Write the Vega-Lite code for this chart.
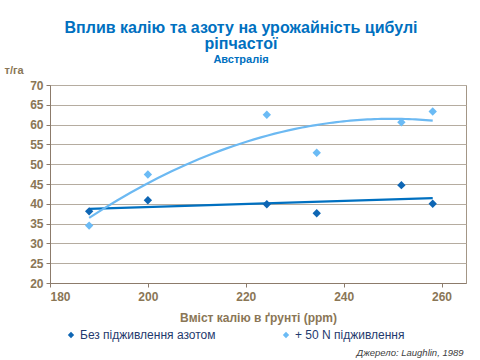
{
  "$schema": "https://vega.github.io/schema/vega-lite/v6.json",
  "width": 416,
  "height": 198,
  "autosize": {"type": "none"},
  "padding": {"left": 50, "top": 85, "right": 14, "bottom": 77},
  "background": "white",
  "config": {
    "font": "Liberation Sans",
    "view": {"stroke": "#A39686", "strokeWidth": 1}
  },
  "title": {
    "text": ["Вплив калію та азоту на урожайність цибулі", "ріпчастої"],
    "subtitle": "Австралія",
    "font": "Liberation Sans",
    "fontSize": 16,
    "fontWeight": "bold",
    "color": "#0070C0",
    "lineHeight": 16,
    "subtitleFont": "Liberation Sans",
    "subtitleFontSize": 11,
    "subtitleFontWeight": "bold",
    "subtitleColor": "#0070C0",
    "subtitlePadding": 2,
    "anchor": "middle",
    "dx": -17,
    "offset": -1
  },
  "data": {
    "values": [
      {"k": 188, "y": 38.1, "series": "Без підживлення азотом"},
      {"k": 200, "y": 40.9, "series": "Без підживлення азотом"},
      {"k": 224.3, "y": 39.9, "series": "Без підживлення азотом"},
      {"k": 234.5, "y": 37.6, "series": "Без підживлення азотом"},
      {"k": 251.8, "y": 44.7, "series": "Без підживлення азотом"},
      {"k": 258.2, "y": 40.0, "series": "Без підживлення азотом"},
      {"k": 188, "y": 34.5, "series": "+ 50 N підживлення"},
      {"k": 200, "y": 47.4, "series": "+ 50 N підживлення"},
      {"k": 224.3, "y": 62.5, "series": "+ 50 N підживлення"},
      {"k": 234.5, "y": 52.9, "series": "+ 50 N підживлення"},
      {"k": 251.8, "y": 60.6, "series": "+ 50 N підживлення"},
      {"k": 258.2, "y": 63.3, "series": "+ 50 N підживлення"}
    ]
  },
  "layer": [
    {
      "encoding": {
        "x": {
          "field": "k", "type": "quantitative",
          "title": "Вміст  калію в ґрунті  (ppm)",
          "scale": {"domain": [180, 265], "nice": false, "zero": false},
          "axis": {
            "values": [180, 200, 220, 240, 260],
            "grid": false,
            "domainColor": "#8C7B6B",
            "tickColor": "#8C7B6B",
            "tickSize": 4,
            "labelColor": "#8A7656",
            "labelFont": "Liberation Sans",
            "labelFontSize": 12,
            "labelFontWeight": "bold",
            "labelPadding": 4,
            "titleColor": "#8A7656",
            "titleFont": "Liberation Sans",
            "titleFontSize": 12,
            "titleFontWeight": "bold",
            "titlePadding": 10
          }
        },
        "y": {
          "field": "y", "type": "quantitative",
          "title": "т/га",
          "scale": {"domain": [20, 70], "nice": false, "zero": false},
          "axis": {
            "values": [20, 25, 30, 35, 40, 45, 50, 55, 60, 65, 70],
            "labelOverlap": false,
            "gridColor": "#B5ACA0",
            "gridWidth": 1,
            "domainColor": "#8C7B6B",
            "tickColor": "#8C7B6B",
            "tickSize": 4,
            "labelColor": "#8A7656",
            "labelFont": "Liberation Sans",
            "labelFontSize": 12,
            "labelFontWeight": "bold",
            "labelPadding": 3,
            "titleColor": "#8A7656",
            "titleFont": "Liberation Sans",
            "titleFontSize": 11,
            "titleFontWeight": "bold",
            "titleAngle": 0,
            "titleAlign": "left",
            "titleBaseline": "middle",
            "titleX": -46,
            "titleY": -15
          }
        }
      },
      "layer": [
        {
          "transform": [
            {"filter": "datum.series === 'Без підживлення азотом'"},
            {"regression": "y", "on": "k", "method": "linear"}
          ],
          "mark": {"type": "line", "color": "#0070C0", "strokeWidth": 2.2}
        },
        {
          "transform": [
            {"filter": "datum.series === '+ 50 N підживлення'"},
            {"regression": "y", "on": "k", "method": "poly", "order": 2}
          ],
          "mark": {"type": "line", "color": "#6CB9F2", "strokeWidth": 2.2}
        },
        {
          "mark": {"type": "point", "shape": "diamond", "filled": true, "size": 70, "opacity": 1},
          "encoding": {
            "color": {
              "field": "series", "type": "nominal",
              "scale": {"domain": ["Без підживлення азотом", "+ 50 N підживлення"], "range": ["#0E66B4", "#6BBBF5"]},
              "legend": {
                "title": null,
                "orient": "none",
                "direction": "horizontal",
                "legendX": 15,
                "legendY": 244,
                "symbolType": "diamond",
                "symbolSize": 40,
                "labelFont": "Liberation Sans",
                "labelFontSize": 12,
                "labelColor": "#1F3A6E",
                "columnPadding": 64,
                "labelOffset": 3
              }
            }
          }
        }
      ]
    },
    {
      "data": {"values": [{"source": "Джерело: Laughlin, 1989"}]},
      "mark": {"type": "text", "align": "right", "baseline": "middle", "font": "Liberation Sans", "fontSize": 9.5, "fontStyle": "italic", "color": "#404040", "clip": false},
      "encoding": {
        "x": {
          "datum": 264.5, "type": "quantitative",
          "title": "Вміст  калію в ґрунті  (ppm)",
          "axis": {
            "values": [180, 200, 220, 240, 260],
            "grid": false,
            "domainColor": "#8C7B6B",
            "tickColor": "#8C7B6B",
            "tickSize": 4,
            "labelColor": "#8A7656",
            "labelFont": "Liberation Sans",
            "labelFontSize": 12,
            "labelFontWeight": "bold",
            "labelPadding": 4,
            "titleColor": "#8A7656",
            "titleFont": "Liberation Sans",
            "titleFontSize": 12,
            "titleFontWeight": "bold",
            "titlePadding": 10
          }
        },
        "y": {
          "datum": 2.2, "type": "quantitative",
          "title": "т/га",
          "axis": {
            "values": [20, 25, 30, 35, 40, 45, 50, 55, 60, 65, 70],
            "labelOverlap": false,
            "gridColor": "#B5ACA0",
            "gridWidth": 1,
            "domainColor": "#8C7B6B",
            "tickColor": "#8C7B6B",
            "tickSize": 4,
            "labelColor": "#8A7656",
            "labelFont": "Liberation Sans",
            "labelFontSize": 12,
            "labelFontWeight": "bold",
            "labelPadding": 3,
            "titleColor": "#8A7656",
            "titleFont": "Liberation Sans",
            "titleFontSize": 11,
            "titleFontWeight": "bold",
            "titleAngle": 0,
            "titleAlign": "left",
            "titleBaseline": "middle",
            "titleX": -46,
            "titleY": -15
          }
        },
        "text": {"field": "source"}
      }
    }
  ]
}
